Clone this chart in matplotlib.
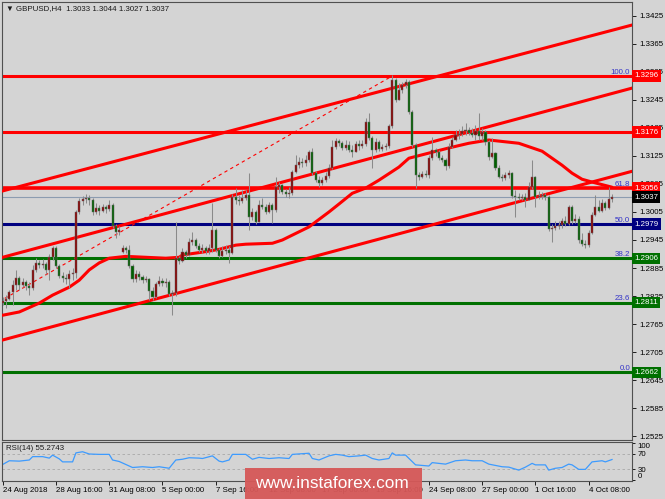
import matplotlib
matplotlib.use('Agg')
import matplotlib.pyplot as plt
import matplotlib.transforms as mtransforms
from matplotlib.patches import Rectangle
import numpy as np

plt.rcParams['font.family'] = ['Liberation Sans', 'DejaVu Sans']

# ---------------- data ----------------
opens = [1.2810, 1.2814, 1.2818, 1.2833, 1.2848, 1.2863, 1.2848, 1.2855, 1.2846, 1.2842,
         1.2881, 1.2896, 1.2891, 1.2893, 1.2881, 1.2908, 1.2928, 1.2889, 1.2868, 1.2863,
         1.2861, 1.2872, 1.2874, 1.3005, 1.3028, 1.3032, 1.3035, 1.3030, 1.3005, 1.3013,
         1.3007, 1.3015, 1.3011, 1.3020, 1.2975, 1.2962, 1.2919, 1.2928, 1.2923, 1.2889,
         1.2861, 1.2872, 1.2866, 1.2859, 1.2861, 1.2836, 1.2823, 1.2851, 1.2857, 1.2853,
         1.2855, 1.2829, 1.2831, 1.2906, 1.2900, 1.2919, 1.2913, 1.2940, 1.2945, 1.2932,
         1.2923, 1.2928, 1.2921, 1.2928, 1.2966, 1.2923, 1.2910, 1.2921, 1.2923, 1.2917,
         1.3037, 1.3030, 1.3028, 1.3035, 1.3041, 1.2994, 1.3005, 1.2983, 1.3020, 1.3015,
         1.3005, 1.3020, 1.3009, 1.3058, 1.3062, 1.3047, 1.3043, 1.3045, 1.3090, 1.3105,
         1.3112, 1.3110, 1.3116, 1.3133, 1.3088, 1.3073, 1.3067, 1.3073, 1.3082, 1.3099,
         1.3144, 1.3157, 1.3152, 1.3142, 1.3148, 1.3137, 1.3133, 1.3150, 1.3146, 1.3150,
         1.3197, 1.3163, 1.3137, 1.3154, 1.3139, 1.3144, 1.3146, 1.3189, 1.3287, 1.3244,
         1.3266, 1.3276, 1.3283, 1.3219, 1.3148, 1.3084, 1.3080, 1.3086, 1.3084, 1.3120,
         1.3137, 1.3133, 1.3120, 1.3116, 1.3103, 1.3144, 1.3159, 1.3169, 1.3172, 1.3178,
         1.3180, 1.3174, 1.3169, 1.3178, 1.3167, 1.3176, 1.3154, 1.3122, 1.3131, 1.3099,
         1.3080, 1.3077, 1.3084, 1.3088, 1.3039, 1.3037, 1.3035, 1.3037, 1.3030, 1.3058,
         1.3080, 1.3037, 1.3039, 1.3041, 1.3037, 1.2968, 1.2970, 1.2975, 1.2977, 1.2985,
         1.2979, 1.3015, 1.2985, 1.2990, 1.2945, 1.2936, 1.2934, 1.2960, 1.2998, 1.3015,
         1.3007, 1.3024, 1.3013, 1.3033]

highs = [1.2823, 1.2827, 1.2838, 1.2859, 1.2881, 1.2868, 1.2863, 1.2859, 1.2855, 1.2891,
         1.2906, 1.2902, 1.2904, 1.2898, 1.2915, 1.2932, 1.2932, 1.2893, 1.2876, 1.2872,
         1.2881, 1.2885, 1.3009, 1.3035, 1.3039, 1.3043, 1.3041, 1.3035, 1.3024, 1.3020,
         1.3022, 1.3020, 1.3030, 1.3024, 1.2979, 1.2975, 1.2934, 1.2932, 1.2934, 1.2893,
         1.2881, 1.2878, 1.2870, 1.2868, 1.2863, 1.2844, 1.2855, 1.2868, 1.2863, 1.2863,
         1.2859, 1.2838, 1.2983, 1.2910, 1.2928, 1.2923, 1.2949, 1.2962, 1.2949, 1.2938,
         1.2936, 1.2932, 1.2936, 1.3024, 1.2970, 1.2928, 1.2932, 1.2934, 1.2932, 1.3043,
         1.3056, 1.3041, 1.3052, 1.3052, 1.3088, 1.3013, 1.3009, 1.3030, 1.3035, 1.3022,
         1.3026, 1.3024, 1.3080, 1.3069, 1.3065, 1.3054, 1.3058, 1.3095, 1.3127, 1.3122,
         1.3120, 1.3127, 1.3137, 1.3142, 1.3092, 1.3082, 1.3080, 1.3090, 1.3107, 1.3159,
         1.3163, 1.3161, 1.3157, 1.3159, 1.3157, 1.3148, 1.3157, 1.3159, 1.3159, 1.3206,
         1.3217, 1.3167, 1.3163, 1.3159, 1.3150, 1.3152, 1.3193, 1.3298, 1.3291, 1.3280,
         1.3283, 1.3289, 1.3287, 1.3223, 1.3152, 1.3090, 1.3092, 1.3095, 1.3127, 1.3165,
         1.3142, 1.3137, 1.3127, 1.3120, 1.3152, 1.3165, 1.3180, 1.3182, 1.3189, 1.3195,
         1.3187, 1.3184, 1.3191, 1.3217, 1.3184, 1.3180, 1.3159, 1.3163, 1.3133, 1.3105,
         1.3086, 1.3090, 1.3095, 1.3090, 1.3052, 1.3045, 1.3043, 1.3045, 1.3069, 1.3116,
         1.3082, 1.3050, 1.3047, 1.3045, 1.3041, 1.2979, 1.2985, 1.2985, 1.2992, 1.2996,
         1.3020, 1.3020, 1.3000, 1.2996, 1.2960, 1.2945, 1.2966, 1.3005, 1.3041, 1.3030,
         1.3032, 1.3028, 1.3058, 1.3044]

lows = [1.2806, 1.2799, 1.2816, 1.2806, 1.2838, 1.2838, 1.2844, 1.2838, 1.2827, 1.2838,
        1.2876, 1.2885, 1.2885, 1.2872, 1.2859, 1.2902, 1.2885, 1.2863, 1.2855, 1.2851,
        1.2842, 1.2859, 1.2863, 1.3000, 1.3020, 1.3024, 1.3020, 1.2998, 1.3000, 1.2998,
        1.3005, 1.3002, 1.3007, 1.2970, 1.2949, 1.2955, 1.2917, 1.2917, 1.2885, 1.2855,
        1.2855, 1.2859, 1.2853, 1.2855, 1.2816, 1.2816, 1.2820, 1.2846, 1.2846, 1.2844,
        1.2825, 1.2784, 1.2825, 1.2893, 1.2898, 1.2906, 1.2910, 1.2934, 1.2928, 1.2919,
        1.2917, 1.2915, 1.2915, 1.2919, 1.2919, 1.2906, 1.2908, 1.2915, 1.2896, 1.2915,
        1.3022, 1.3020, 1.3024, 1.3030, 1.2966, 1.2988, 1.2979, 1.2983, 1.3011, 1.3000,
        1.3002, 1.2981, 1.3005, 1.3045, 1.3043, 1.3037, 1.3035, 1.3041, 1.3088, 1.3099,
        1.3101, 1.3103, 1.3112, 1.3084, 1.3069, 1.3058, 1.3062, 1.3069, 1.3077, 1.3097,
        1.3139, 1.3146, 1.3137, 1.3137, 1.3133, 1.3122, 1.3133, 1.3137, 1.3142, 1.3146,
        1.3159, 1.3099, 1.3133, 1.3135, 1.3135, 1.3137, 1.3142, 1.3184, 1.3240, 1.3244,
        1.3259, 1.3270, 1.3214, 1.3144, 1.3056, 1.3073, 1.3077, 1.3080, 1.3077, 1.3116,
        1.3124, 1.3116, 1.3112, 1.3095, 1.3099, 1.3142, 1.3157, 1.3161, 1.3167, 1.3169,
        1.3169, 1.3165, 1.3159, 1.3159, 1.3159, 1.3148, 1.3116, 1.3120, 1.3095, 1.3077,
        1.3071, 1.3073, 1.3077, 1.3035, 1.2994, 1.3030, 1.3030, 1.3015, 1.3030, 1.3054,
        1.3015, 1.3032, 1.3032, 1.3030, 1.2964, 1.2940, 1.2966, 1.2968, 1.2970, 1.2975,
        1.2977, 1.2979, 1.2981, 1.2938, 1.2932, 1.2928, 1.2930, 1.2958, 1.2996, 1.3005,
        1.3005, 1.3009, 1.3011, 1.3027]

closes = [1.2814, 1.2818, 1.2833, 1.2848, 1.2863, 1.2848, 1.2855, 1.2846, 1.2842, 1.2881,
          1.2896, 1.2891, 1.2893, 1.2881, 1.2908, 1.2928, 1.2889, 1.2868, 1.2863, 1.2861,
          1.2872, 1.2874, 1.3005, 1.3028, 1.3032, 1.3035, 1.3030, 1.3005, 1.3013, 1.3007,
          1.3015, 1.3011, 1.3020, 1.2975, 1.2962, 1.2966, 1.2928, 1.2923, 1.2889, 1.2861,
          1.2872, 1.2866, 1.2859, 1.2861, 1.2836, 1.2823, 1.2851, 1.2857, 1.2853, 1.2855,
          1.2829, 1.2831, 1.2906, 1.2900, 1.2919, 1.2913, 1.2940, 1.2945, 1.2932, 1.2923,
          1.2928, 1.2921, 1.2928, 1.2966, 1.2923, 1.2910, 1.2921, 1.2923, 1.2917, 1.3037,
          1.3030, 1.3028, 1.3035, 1.3041, 1.2994, 1.3005, 1.2983, 1.3020, 1.3015, 1.3005,
          1.3020, 1.3009, 1.3058, 1.3062, 1.3047, 1.3043, 1.3045, 1.3090, 1.3105, 1.3112,
          1.3110, 1.3116, 1.3133, 1.3088, 1.3073, 1.3067, 1.3073, 1.3082, 1.3099, 1.3144,
          1.3157, 1.3152, 1.3142, 1.3148, 1.3137, 1.3133, 1.3150, 1.3146, 1.3150, 1.3197,
          1.3163, 1.3137, 1.3154, 1.3139, 1.3144, 1.3146, 1.3189, 1.3287, 1.3244, 1.3266,
          1.3276, 1.3283, 1.3219, 1.3148, 1.3084, 1.3080, 1.3086, 1.3084, 1.3120, 1.3137,
          1.3133, 1.3120, 1.3116, 1.3103, 1.3144, 1.3159, 1.3169, 1.3172, 1.3178, 1.3180,
          1.3174, 1.3169, 1.3178, 1.3167, 1.3176, 1.3154, 1.3122, 1.3131, 1.3099, 1.3080,
          1.3077, 1.3084, 1.3088, 1.3039, 1.3037, 1.3035, 1.3037, 1.3030, 1.3058, 1.3080,
          1.3037, 1.3039, 1.3041, 1.3037, 1.2968, 1.2970, 1.2975, 1.2977, 1.2985, 1.2979,
          1.3015, 1.2985, 1.2990, 1.2945, 1.2936, 1.2934, 1.2960, 1.2998, 1.3015, 1.3007,
          1.3024, 1.3013, 1.3032, 1.3037]

ma_bars = [0, 5, 11, 15, 20, 23, 26, 29, 32, 37, 43, 49, 53, 54, 60, 65, 70, 73, 81, 84,
           92, 98, 101, 105, 109, 113, 119, 122, 128, 134, 140, 146, 155, 162, 165, 168,
           171, 174, 177, 183]
ma_vals = [1.2784, 1.2791, 1.2810, 1.2827, 1.2844, 1.2859, 1.2881, 1.2896, 1.2906, 1.2910,
           1.2908, 1.2906, 1.2908, 1.2913, 1.2919, 1.2925, 1.2934, 1.2936, 1.2938, 1.2945,
           1.2973, 1.3005, 1.3022, 1.3045, 1.3056, 1.3073, 1.3101, 1.3120, 1.3131, 1.3142,
           1.3152, 1.3159, 1.3152, 1.3135, 1.3120, 1.3105, 1.3088, 1.3075, 1.3069, 1.3058]

rsi_bars = [0, 2, 5, 8, 9, 12, 14, 15, 17, 18, 21, 22, 24, 26, 29, 32, 33, 35, 39, 42,
            45, 47, 50, 52, 54, 56, 59, 60, 63, 65, 66, 68, 69, 73, 75, 77, 80, 83, 86, 87,
            92, 93, 95, 98, 100, 102, 104, 107, 109, 111, 113, 116, 117, 118, 121, 124, 128,
            129, 133, 136, 139, 141, 144, 146, 150, 152, 155, 157, 159, 160, 163, 164, 166,
            168, 170, 171, 173, 175, 177, 180, 181, 183]
rsi_vals = [42, 52, 51, 54, 63, 63, 59, 67, 57, 49, 49, 73, 76, 70, 69, 69, 54, 50, 34, 36,
            34, 36, 32, 54, 56, 60, 59, 58, 65, 51, 49, 54, 69, 69, 56, 61, 58, 60, 58, 69,
            72, 58, 54, 65, 69, 67, 63, 65, 67, 58, 54, 58, 73, 67, 67, 41, 38, 47, 43, 52,
            54, 52, 52, 43, 36, 35, 27, 35, 45, 41, 41, 27, 32, 34, 43, 41, 29, 29, 49, 52,
            49, 55.27]

# horizontal levels: (price, colour of line/box)
levels = [(1.3296, '#ff0000'), (1.3176, '#ff0000'), (1.3056, '#ff0000'),
          (1.2979, '#000080'), (1.2906, '#007000'), (1.2811, '#007000'), (1.2662, '#007000')]
bid_price = 1.3037
fib_levels = [1.3296, 1.3056, 1.2979, 1.2906, 1.2811, 1.2662]
fib_labels = ['100.0', '61.8', '50.0', '38.2', '23.6', '0.0']
fib_anchor = [(-38, 1.2662), (117, 1.3296)]

# channel lines: two anchor points (bar, price) each
channels = [((0, 1.3050), (189, 1.3405)),
            ((0, 1.2908), (189, 1.3270)),
            ((0, 1.2731), (189, 1.3092))]

ytick_vals = [1.2525, 1.2585, 1.2645, 1.2705, 1.2765, 1.2825, 1.2885, 1.2945, 1.3005,
              1.3065, 1.3125, 1.3185, 1.3245, 1.3305, 1.3365, 1.3425]
xtick_bars = [0, 16, 32, 48, 64, 80, 96, 112, 128, 144, 160, 176]
xtick_labels = ['24 Aug 2018', '28 Aug 16:00', '31 Aug 08:00', '5 Sep 00:00', '7 Sep 16:00',
                '12 Sep 08:00', '17 Sep 00:00', '19 Sep 16:00', '24 Sep 08:00',
                '27 Sep 00:00', '1 Oct 16:00', '4 Oct 08:00']

# ---------------- figure ----------------
BG = '#d4d4d4'
W, H = 665, 499
FS = 5.7
fig = plt.figure(figsize=(W / 100, H / 100), dpi=100, facecolor=BG)


def rect(l, t, r, b):
    return [l / W, 1 - b / H, (r - l) / W, (b - t) / H]


ax = fig.add_axes(rect(2, 2, 632, 440), facecolor=BG)
axr = fig.add_axes(rect(2, 442, 632, 481), facecolor=BG)

XL = (-0.2, 189.0)
ax.set_xlim(*XL)
axr.set_xlim(*XL)
ax.set_ylim(1.25170, 1.34543)

# levels
for price, col in levels:
    if price == 1.3056:
        ax.axhline(price - 0.00005, color='#000080', lw=0.8, zorder=2)
        ax.axhline(price + 0.00002, color=col, lw=2.6, zorder=2)
    else:
        ax.axhline(price, color=col, lw=2.2, zorder=2)
ax.axhline(bid_price, color='#8c9cb0', lw=0.8, zorder=2)

# fibonacci dashed trend
ax.plot([fib_anchor[0][0], fib_anchor[1][0]], [fib_anchor[0][1], fib_anchor[1][1]],
        color='#ff0000', lw=0.8, ls=(0, (3, 3)), zorder=2)

# channels
for p1, p2 in channels:
    ax.axline(p1, p2, color='#ff0000', lw=2.2, zorder=3)

# moving average
ax.plot(ma_bars, ma_vals, color='#ff0000', lw=2.2, zorder=3, solid_capstyle='round')

# candles
o = np.array(opens); h = np.array(highs); l = np.array(lows); c = np.array(closes)
xb = np.arange(len(c))
up = c >= o
ax.vlines(xb, l, h, color='#8a8a8a', lw=0.75, zorder=4)
bot = np.minimum(o, c)
hgt = np.maximum(np.abs(c - o), 0.00007)
ax.bar(xb[up], hgt[up], bottom=bot[up], width=0.62, color='#8b0000',
       edgecolor='#6a6a6a', linewidth=0.35, zorder=5)
ax.bar(xb[~up], hgt[~up], bottom=bot[~up], width=0.62, color='#006000',
       edgecolor='#6a6a6a', linewidth=0.35, zorder=5)

# y axis
ax.yaxis.tick_right()
ax.set_yticks(ytick_vals)
ax.set_yticklabels([f'{v:.4f}' for v in ytick_vals])
ax.tick_params(axis='y', direction='out', length=3, width=0.6, pad=2, labelsize=FS,
               colors='#000000')
ax.tick_params(axis='x', bottom=False, labelbottom=False)

trans = mtransforms.blended_transform_factory(ax.transAxes, ax.transData)
for price, lab in zip(fib_levels, fib_labels):
    ax.text(0.997, price + 0.0001, lab, transform=trans, ha='right', va='bottom',
            fontsize=FS, color='#3434c8', zorder=12)

box_items = [(p, col) for p, col in levels] + [(bid_price, '#000000')]
for price, col in box_items:
    ax.text(1.0035, price, f'{price:.4f}', transform=trans, ha='left', va='center',
            fontsize=FS, color='white', zorder=20, clip_on=False,
            bbox=dict(boxstyle='square,pad=0.28', fc=col, ec='none'))

for a in (ax, axr):
    for s in a.spines.values():
        s.set_color('#505050')
        s.set_linewidth(0.8)

fig.text(6 / W, 1 - 9 / H, '\u25bc GBPUSD,H4  1.3033 1.3044 1.3027 1.3037', fontsize=FS,
         va='center', ha='left', color='#1a1a1a')

# RSI panel
axr.set_ylim(-2, 102)
axr.axhline(70, color='#a8a8a8', lw=0.6, ls=(0, (3, 3)))
axr.axhline(30, color='#a8a8a8', lw=0.6, ls=(0, (3, 3)))
axr.plot(rsi_bars, rsi_vals, color='#3d9bff', lw=0.9)
axr.yaxis.tick_right()
axr.set_yticks([100, 70, 30, 0])
axr.set_yticklabels(['100', '70', '30', '0'])
axr.tick_params(axis='y', direction='out', length=2, width=0.6, pad=2, labelsize=FS)
tl = axr.get_yticklabels()
tl[0].set_va('top')
tl[3].set_va('bottom')
axr.text(0.006, 0.84, 'RSI(14) 55.2743', transform=axr.transAxes, fontsize=FS,
         va='center', ha='left', color='#1a1a1a')

axr.set_xticks(xtick_bars)
axr.set_xticklabels(xtick_labels)
axr.tick_params(axis='x', direction='out', length=3, width=0.6, pad=1.5, labelsize=FS)
for t in axr.get_xticklabels():
    t.set_ha('left')

# watermark
fig.patches.append(Rectangle((245 / W, 0), 177 / W, 31 / H, transform=fig.transFigure,
                             fc='#d65858', ec='none', alpha=0.95, zorder=30))
fig.text(332 / W, 1 - 484 / H, 'www.instaforex.com', fontsize=12.4, color='white',
         ha='center', va='center', zorder=31)

fig.savefig('out.png', dpi=100, facecolor=BG)
